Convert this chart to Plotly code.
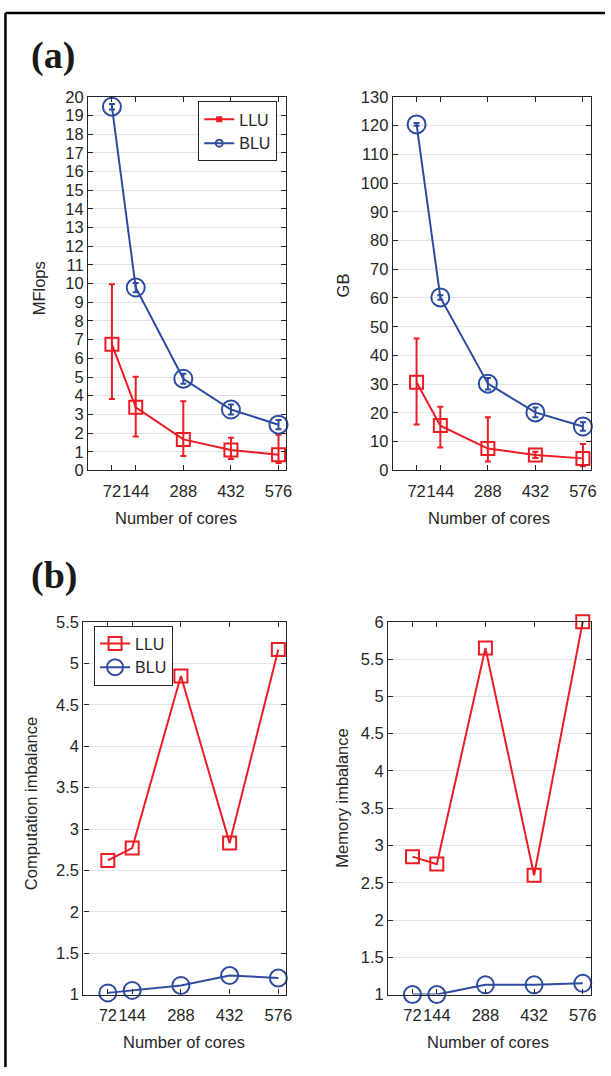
import plotly.graph_objects as go

# ---------------- data ----------------
cores = [72, 144, 288, 432, 576]
x_ticks = [72, 144, 288, 432, 576]
x_tick_labels = ["72", "144", "288", "432", "576"]

mflops_llu = [6.75, 3.38, 1.66, 1.10, 0.84]
mflops_llu_low = [3.82, 1.82, 0.77, 0.61, 0.40]
mflops_llu_high = [9.97, 5.02, 3.70, 1.75, 1.91]
mflops_blu = [19.47, 9.79, 4.91, 3.26, 2.45]
mflops_blu_err = [0.15, 0.25, 0.27, 0.27, 0.25]

gb_llu = [30.7, 15.6, 7.6, 5.4, 4.2]
gb_llu_low = [16.0, 8.0, 3.1, 4.3, 1.5]
gb_llu_high = [45.9, 22.2, 18.5, 6.5, 9.2]
gb_blu = [120.4, 60.2, 30.2, 20.2, 15.3]
gb_blu_err = [0.5, 0.8, 2.0, 1.7, 1.5]

comp_llu = [2.62, 2.77, 4.85, 2.83, 5.17]
comp_blu = [1.02, 1.05, 1.11, 1.23, 1.20]
mem_llu = [2.85, 2.75, 5.65, 2.60, 6.00]
mem_blu = [1.00, 1.00, 1.13, 1.13, 1.15]

RED = "#EC1C24"
BLUE = "#2D4CA0"
TXT = "#262626"
W, H = 611, 1076


def px(x):
    return x / W


def py(y):
    return 1 - y / H


fig = go.Figure()


def err(val, low, high):
    return dict(type="data", symmetric=False,
                array=[h - v for v, h in zip(val, high)],
                arrayminus=[v - l for v, l in zip(val, low)])


# ---- (a) left: MFlops ----
e = err(mflops_llu, mflops_llu_low, mflops_llu_high)
e.update(color=RED, thickness=2, width=3)
fig.add_trace(go.Scatter(x=cores, y=mflops_llu, mode="lines+markers", name="LLU",
                         line=dict(color=RED, width=2),
                         marker=dict(symbol="square-open", size=13, color=RED, line=dict(width=2)),
                         error_y=e, xaxis="x", yaxis="y", showlegend=False, cliponaxis=False))
fig.add_trace(go.Scatter(x=cores, y=mflops_blu, mode="lines+markers", name="BLU",
                         line=dict(color=BLUE, width=2),
                         marker=dict(symbol="circle-open", size=18, color=BLUE, line=dict(width=2)),
                         error_y=dict(type="data", array=mflops_blu_err, color=BLUE, thickness=2, width=3),
                         xaxis="x", yaxis="y", showlegend=False, cliponaxis=False))

# ---- (a) right: GB ----
e = err(gb_llu, gb_llu_low, gb_llu_high)
e.update(color=RED, thickness=2, width=3)
fig.add_trace(go.Scatter(x=cores, y=gb_llu, mode="lines+markers", name="LLU",
                         line=dict(color=RED, width=2),
                         marker=dict(symbol="square-open", size=13, color=RED, line=dict(width=2)),
                         error_y=e, xaxis="x2", yaxis="y2", showlegend=False, cliponaxis=False))
fig.add_trace(go.Scatter(x=cores, y=gb_blu, mode="lines+markers", name="BLU",
                         line=dict(color=BLUE, width=2),
                         marker=dict(symbol="circle-open", size=18, color=BLUE, line=dict(width=2)),
                         error_y=dict(type="data", array=gb_blu_err, color=BLUE, thickness=2, width=3),
                         xaxis="x2", yaxis="y2", showlegend=False, cliponaxis=False))

# legend entries for (a)
fig.add_trace(go.Scatter(x=[None], y=[None], mode="lines+markers", name="LLU",
                         line=dict(color=RED, width=2),
                         marker=dict(symbol="square", size=6, color=RED),
                         xaxis="x", yaxis="y", legend="legend"))
fig.add_trace(go.Scatter(x=[None], y=[None], mode="lines+markers", name="BLU",
                         line=dict(color=BLUE, width=2),
                         marker=dict(symbol="circle-open", size=7, color=BLUE, line=dict(width=2)),
                         xaxis="x", yaxis="y", legend="legend"))

# ---- (b) left: computation imbalance ----
fig.add_trace(go.Scatter(x=cores, y=comp_llu, mode="lines+markers", name="LLU",
                         line=dict(color=RED, width=2),
                         marker=dict(symbol="square-open", size=13, color=RED, line=dict(width=2)),
                         xaxis="x3", yaxis="y3", legend="legend2", cliponaxis=False))
fig.add_trace(go.Scatter(x=cores, y=comp_blu, mode="lines+markers", name="BLU",
                         line=dict(color=BLUE, width=2),
                         marker=dict(symbol="circle-open", size=17, color=BLUE, line=dict(width=2)),
                         xaxis="x3", yaxis="y3", legend="legend2", cliponaxis=False))

# ---- (b) right: memory imbalance ----
fig.add_trace(go.Scatter(x=cores, y=mem_llu, mode="lines+markers", name="LLU",
                         line=dict(color=RED, width=2),
                         marker=dict(symbol="square-open", size=13, color=RED, line=dict(width=2)),
                         xaxis="x4", yaxis="y4", showlegend=False, cliponaxis=False))
fig.add_trace(go.Scatter(x=cores, y=mem_blu, mode="lines+markers", name="BLU",
                         line=dict(color=BLUE, width=2),
                         marker=dict(symbol="circle-open", size=17, color=BLUE, line=dict(width=2)),
                         xaxis="x4", yaxis="y4", showlegend=False, cliponaxis=False))

FONT = "Liberation Sans, Arial, sans-serif"


def xax(domain, anchor):
    return dict(domain=domain, anchor=anchor, range=[0, 600], tickvals=x_ticks,
                ticktext=x_tick_labels, tickangle=0, ticks="inside", ticklen=5,
                tickcolor=TXT, showline=True, linecolor=TXT, linewidth=1.3,
                mirror="allticks", showgrid=False, zeroline=False,
                ticklabelstandoff=6,
                tickfont=dict(size=16.5, color=TXT, family=FONT))


def yax(domain, anchor, rng, dtick):
    return dict(domain=domain, anchor=anchor, range=rng, dtick=dtick, tick0=0,
                ticks="inside", ticklen=5, tickcolor=TXT, showline=True,
                linecolor=TXT, linewidth=1.3, mirror="allticks", showgrid=True,
                gridcolor="#E3E3E3", gridwidth=1, zeroline=False,
                tickfont=dict(size=16.5, color=TXT, family=FONT))


top_y = [py(469.3), py(89.3)]
bot_y = [py(1002.3), py(623.6)]

annotations = []


def ann(text, x, y, size=16.5, angle=0, family=FONT, color=TXT):
    annotations.append(dict(text=text, x=px(x), y=py(y), xref="paper", yref="paper",
                            showarrow=False, textangle=angle, xanchor="center",
                            yanchor="middle", font=dict(size=size, color=color, family=family)))


ann("<b>(a)</b>", 54, 47, size=38, family="Liberation Serif, Times New Roman, serif", color="#1a1a1a")
ann("<b>(b)</b>", 55, 576, size=38, family="Liberation Serif, Times New Roman, serif", color="#1a1a1a")
ann("Number of cores", 177.5, 518)
ann("Number of cores", 494, 518)
ann("Number of cores", 185.5, 1051)
ann("Number of cores", 493, 1051)
ann("MFlops", 39.5, 284, angle=-90)
ann("GB", 346.5, 281, angle=-90)
ann("Computation imbalance", 32, 808, angle=-90)
ann("Memory imbalance", 344.5, 803, angle=-90)

fig.update_layout(
    width=W, height=H, margin=dict(l=0, r=0, t=0, b=0),
    paper_bgcolor="white", plot_bgcolor="white",
    font=dict(family=FONT, color=TXT),
    xaxis=xax([px(89), px(289.3)], "y"),
    yaxis=yax(top_y, "x", [0, 20], 1),
    xaxis2=xax([px(396.7), px(596.7)], "y2"),
    yaxis2=yax(top_y, "x2", [0, 130], 10),
    xaxis3=xax([px(84.3), px(289.3)], "y3"),
    yaxis3=yax(bot_y, "x3", [1, 5.5], 0.5),
    xaxis4=xax([px(392), px(596.7)], "y4"),
    yaxis4=yax([py(1002.3), py(623.3)], "x4", [1, 6], 0.5),
    legend=dict(x=px(280), y=py(94), xanchor="right", yanchor="top",
                bgcolor="white", bordercolor=TXT, borderwidth=1,
                font=dict(size=16, color=TXT, family=FONT), tracegroupgap=0,
                itemwidth=30),
    legend2=dict(x=px(95), y=py(627), xanchor="left", yanchor="top",
                 bgcolor="white", bordercolor=TXT, borderwidth=1,
                 font=dict(size=16, color=TXT, family=FONT), tracegroupgap=0,
                 itemwidth=30),
    annotations=annotations,
    shapes=[
        dict(type="line", xref="paper", yref="paper", x0=px(5.5), x1=1.0, y0=py(4), y1=py(4),
             line=dict(color="black", width=2.5)),
        dict(type="line", xref="paper", yref="paper", x0=px(5.5), x1=px(5.5), y0=py(4), y1=0.0,
             line=dict(color="black", width=2.5)),
    ],
    showlegend=True,
)

fig.write_html("out.html")
